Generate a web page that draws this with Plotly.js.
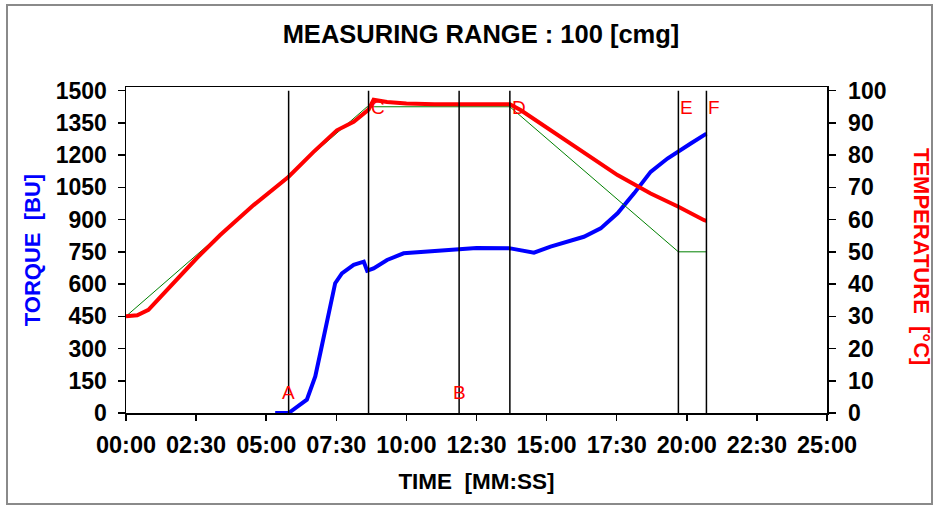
<!DOCTYPE html>
<html>
<head>
<meta charset="utf-8">
<script src="https://cdn.plot.ly/plotly-3.0.1.min.js"></script>
<style>html,body{margin:0;padding:0;background:#fff;}#chart{width:938px;height:506px;}</style>
</head>
<body>
<div id="chart"></div>
<script>
// ---- data (time in minutes) ----
const xTickVals = [0, 2.5, 5, 7.5, 10, 12.5, 15, 17.5, 20, 22.5, 25];
const xTickText = ["00:00","02:30","05:00","07:30","10:00","12:30","15:00","17:30","20:00","22:30","25:00"];

const torqueTime = [5.32, 5.80, 6.45, 6.75, 6.93, 7.11, 7.29, 7.46, 7.70, 8.12, 8.48, 8.60, 8.83, 9.31, 9.90, 11.1, 11.93, 12.5, 13.71, 14.55, 15.14, 16.33, 16.93, 17.53, 18.12, 18.71, 19.31, 19.70, 20.14, 20.70];
const torqueVal  = [0, 0, 62, 170, 279, 387, 495, 604, 650, 689, 704, 662, 673, 712, 743, 754, 766, 768, 766, 746, 774, 820, 859, 929, 1022, 1122, 1184, 1215, 1254, 1300];

const tempTime = [0, 0.4, 0.8, 1.57, 2.52, 3.36, 4.55, 5.80, 6.69, 7.52, 8.12, 8.65, 8.83, 9.31, 10.0, 11.0, 12.0, 13.0, 13.69, 14.07, 15.14, 16.33, 17.53, 18.71, 19.70, 20.62, 20.70];
const tempVal  = [30, 30.3, 32, 39.2, 48, 55.2, 64.5, 73.3, 81, 87.7, 90.3, 94.1, 97.2, 96.5, 96, 95.8, 95.8, 95.8, 95.8, 94, 87.7, 81, 73.8, 68.1, 64, 59.8, 59.6];

const targetTime = [0, 8.6, 13.69, 19.70, 20.70];
const targetVal  = [30, 95, 95, 50, 50];

const markerTime  = [5.80, 8.65, 11.88, 13.69, 19.70, 20.70];
const markerLabel = ["A", "C", "B", "D", "E", "F"];
const markerLow   = [true, false, true, false, false, false];

const torqueMax = 1500, torqueStep = 150;
const tempMax = 100, tempStep = 10;

// ---- chart ----
const FONT = "Liberation Sans, Arial, sans-serif";
const topPad = 1.0113; // box extends a little above the top tick

const traces = [
  {x: targetTime, y: targetVal, yaxis: "y2", mode: "lines", line: {color: "#008000", width: 1}, hoverinfo: "skip"},
  {x: tempTime, y: tempVal, yaxis: "y2", mode: "lines", line: {color: "#ff0000", width: 4}},
  {x: torqueTime, y: torqueVal, yaxis: "y", mode: "lines", line: {color: "#0000ff", width: 4}}
];

const shapes = markerTime.map(t => ({
  type: "line", xref: "x", yref: "y", x0: t, x1: t, y0: 0, y1: torqueMax,
  line: {color: "#000", width: 1.5}, layer: "above"
}));
// outer frame
shapes.push({type: "rect", xref: "paper", yref: "paper",
  x0: (7-126)/701, x1: (932-126)/701, y0: (413-504)/326, y1: (413-5)/326,
  line: {color: "#8a8a8a", width: 2}, layer: "below"});

const annotations = markerTime.map((t, i) => ({
  x: t, y: markerLow[i] ? 95 : 1423, xref: "x", yref: "y",
  text: markerLabel[i], showarrow: false,
  xanchor: markerLow[i] ? "center" : "left", yanchor: "middle",
  font: {family: FONT, size: 19, color: "#ff0000"}
}));
annotations.push({
  xref: "paper", yref: "paper", x: (922-126)/701, y: (413-256)/326,
  text: "TEMPERATURE  [°C]", textangle: 90, showarrow: false,
  xanchor: "center", yanchor: "middle",
  font: {family: FONT, size: 22, color: "#ff0000", weight: "bold"}
});

const yTickFont = {family: FONT, size: 23, color: "#000", weight: "bold"};
const xTickFont = {family: FONT, size: 23.5, color: "#000", weight: "bold"};

const layout = {
  width: 938, height: 506,
  margin: {l: 126, r: 111, t: 87, b: 93},
  paper_bgcolor: "#fff", plot_bgcolor: "#fff",
  showlegend: false,
  title: {text: "MEASURING RANGE : 100 [cmg]", xref: "container", yref: "container",
          x: 481/938, y: 1 - 34/506, xanchor: "center", yanchor: "middle",
          font: {family: FONT, size: 25.5, color: "#000", weight: "bold"}},
  xaxis: {
    range: [0, 25], tickvals: xTickVals, ticktext: xTickText, tickangle: 0,
    showline: true, mirror: true, linecolor: "#000", linewidth: 1.5,
    ticks: "outside", ticklen: 6, tickwidth: 1.5, tickcolor: "#000",
    showgrid: false, zeroline: false, tickfont: xTickFont, ticklabelstandoff: 4,
    title: {text: "TIME  [MM:SS]", font: {family: FONT, size: 22.5, color: "#000", weight: "bold"}, standoff: 16},
    fixedrange: true
  },
  yaxis: {
    range: [0, torqueMax * topPad], tick0: 0, dtick: torqueStep,
    showline: true, linecolor: "#000", linewidth: 1.5,
    ticks: "outside", ticklen: 7, tickwidth: 1.5, tickcolor: "#000",
    showgrid: false, zeroline: false, tickfont: yTickFont, ticklabelstandoff: 6,
    title: {text: "TORQUE  [BU]", font: {family: FONT, size: 22, color: "#0000ff", weight: "bold"}, standoff: 9},
    fixedrange: true
  },
  yaxis2: {
    range: [0, tempMax * topPad], tick0: 0, dtick: tempStep,
    overlaying: "y", side: "right",
    showline: true, linecolor: "#000", linewidth: 1.5,
    ticks: "outside", ticklen: 7, tickwidth: 1.5, tickcolor: "#000",
    showgrid: false, zeroline: false, tickfont: yTickFont, ticklabelstandoff: 8,
    fixedrange: true
  },
  shapes: shapes,
  annotations: annotations
};

Plotly.newPlot("chart", traces, layout, {staticPlot: true, displayModeBar: false});
</script>
</body>
</html>
